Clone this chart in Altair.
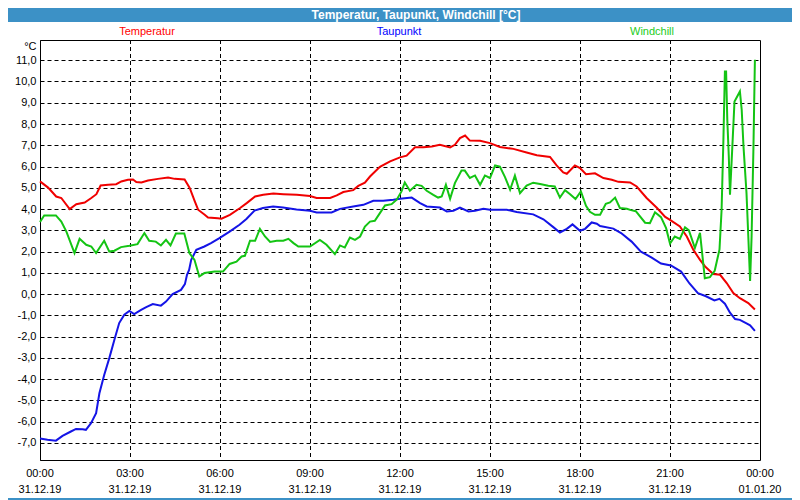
import json
import pandas as pd
import altair as alt

# ---------------- data ----------------
temp_hours = [0.0, 0.27, 0.54, 0.71, 0.99, 1.21, 1.49, 1.71, 1.88, 2.02, 2.27, 2.54, 2.71, 2.93, 3.1, 3.21, 3.38, 3.6, 3.93, 4.27,
              4.49, 4.82, 4.99, 5.16, 5.27, 5.49, 5.6, 5.93, 6.05, 6.33, 6.67, 6.89, 7.17, 7.44, 7.78, 8.11, 8.56, 9.0, 9.22, 9.67,
              9.89, 10.11, 10.44, 10.61, 10.83, 11.0, 11.33, 11.67, 12.0, 12.22, 12.5, 12.78, 13.06, 13.33, 13.67, 13.83, 14.0, 14.17,
              14.33, 14.67, 15.0, 15.33, 15.78, 16.22, 16.56, 17.0, 17.22, 17.44, 17.56, 17.83, 18.0, 18.2, 18.5, 18.78, 19.06, 19.28,
              19.67, 19.89, 20.22, 20.56, 20.84, 21.0, 21.33, 21.56, 21.78, 22.0, 22.17, 22.44, 22.67, 22.89, 23.11, 23.33, 23.61, 23.83]
temp_values = [5.30, 5.01, 4.59, 4.52, 4.00, 4.23, 4.31, 4.52, 4.70, 5.11, 5.14, 5.17, 5.30, 5.38, 5.39, 5.27, 5.25, 5.34, 5.42, 5.48,
               5.42, 5.39, 4.99, 4.36, 3.97, 3.73, 3.60, 3.57, 3.55, 3.73, 4.05, 4.28, 4.59, 4.67, 4.73, 4.70, 4.67, 4.61, 4.52, 4.52,
               4.64, 4.80, 4.89, 5.09, 5.24, 5.53, 5.99, 6.24, 6.43, 6.51, 6.91, 6.91, 6.94, 7.02, 6.90, 7.02, 7.34, 7.46,
               7.22, 7.21, 7.10, 6.92, 6.83, 6.66, 6.53, 6.45, 6.05, 5.72, 5.66, 6.05, 5.93, 5.64, 5.68, 5.46, 5.38, 5.28,
               5.25, 5.06, 4.52, 4.06, 3.63, 3.49, 3.18, 2.71, 2.08, 1.61, 1.30, 0.95, 0.91, 0.52, 0.05, -0.19, -0.42, -0.72]

dew_hours = [0.0, 0.25, 0.53, 0.75, 1.03, 1.2, 1.42, 1.53, 1.7, 1.87, 1.98, 2.14, 2.31, 2.48, 2.64, 2.81, 2.98, 3.14, 3.37, 3.54,
             3.76, 4.03, 4.2, 4.42, 4.7, 4.83, 4.9, 4.97, 5.04, 5.21, 5.48, 5.7, 5.98, 6.32, 6.65, 6.88, 7.15, 7.43, 7.77, 8.1,
             8.55, 9.0, 9.22, 9.72, 10.0, 10.44, 10.78, 11.11, 11.44, 11.78, 12.0, 12.39, 12.67, 12.89, 13.33, 13.56, 13.78, 14.0,
             14.28, 14.5, 14.78, 15.0, 15.56, 15.89, 16.44, 16.78, 17.11, 17.33, 17.56, 17.75, 18.0, 18.17, 18.39, 18.56, 18.67,
             19.11, 19.37, 19.72, 20.03, 20.39, 20.7, 21.03, 21.37, 21.65, 21.93, 22.2, 22.48, 22.65, 22.83, 23.0, 23.17, 23.33,
             23.55, 23.67, 23.83]
dew_values = [-6.79, -6.85, -6.89, -6.67, -6.46, -6.34, -6.35, -6.38, -6.07, -5.60, -4.66, -3.80, -3.01, -2.15, -1.36, -0.97, -0.79,
              -0.94, -0.74, -0.61, -0.47, -0.54, -0.35, 0.0, 0.20, 0.47, 0.91, 1.14, 1.61, 2.08, 2.24, 2.40, 2.63, 2.94, 3.26, 3.53,
              3.93, 4.05, 4.12, 4.07, 3.98, 3.92, 3.84, 3.84, 4.01, 4.12, 4.20, 4.39, 4.39, 4.44, 4.48, 4.54, 4.28, 4.12, 4.07, 3.89,
              3.92, 4.07, 3.89, 3.92, 4.01, 3.97, 3.97, 3.86, 3.75, 3.52, 3.15, 2.90, 3.07, 3.28, 2.98, 3.07, 3.37, 3.31, 3.20,
              3.08, 2.87, 2.47, 2.00, 1.72, 1.44, 1.35, 1.06, 0.50, 0.05, -0.10, -0.30, -0.22, -0.45, -0.87, -1.17, -1.21,
              -1.38, -1.47, -1.73]

wind_hours = [0.0, 0.14, 0.53, 0.71, 0.88, 1.15, 1.32, 1.54, 1.71, 1.87,
              2.14, 2.31, 2.48, 2.7, 2.98, 3.25, 3.48, 3.64, 3.86, 4.03,
              4.2, 4.35, 4.53, 4.81, 4.98, 5.15, 5.31, 5.48, 5.82, 6.1,
              6.32, 6.55, 6.72, 6.83, 7.0, 7.17, 7.33, 7.5, 7.67, 7.89,
              8.11, 8.28, 8.45, 8.61, 9.0, 9.33, 9.55, 9.83, 10.0, 10.16,
              10.33, 10.5, 10.67, 10.83, 11.0, 11.16, 11.33, 11.5, 11.72, 11.89,
              12.05, 12.16, 12.33, 12.55, 12.72, 12.89, 13.11, 13.27, 13.39, 13.53,
              13.67, 13.83, 14.05, 14.16, 14.33, 14.5, 14.67, 14.83, 15.0, 15.17,
              15.33, 15.5, 15.67, 15.83, 16.0, 16.22, 16.44, 16.67, 16.94, 17.16,
              17.33, 17.5, 17.67, 17.85, 18.03, 18.2, 18.33, 18.5, 18.67, 18.86,
              19.0, 19.17, 19.33, 19.56, 19.7, 19.86, 20.17, 20.33, 20.5, 20.7,
              20.87, 21.0, 21.16, 21.33, 21.5, 21.63, 21.83, 22.0, 22.16, 22.33,
              22.49, 22.65, 22.72, 22.78, 22.83, 22.87, 22.91, 22.96, 23.0, 23.07,
              23.15, 23.33, 23.39, 23.45, 23.55, 23.61, 23.67, 23.72, 23.78, 23.83]
wind_values = [3.39, 3.70, 3.70, 3.41, 2.94, 1.93, 2.60, 2.32, 2.24, 1.93,
               2.51, 2.00, 2.04, 2.21, 2.27, 2.35, 2.87, 2.51, 2.47, 2.29,
               2.55, 2.29, 2.85, 2.85, 1.93, 1.61, 0.83, 0.99, 1.06, 1.06,
               1.42, 1.53, 1.77, 1.80, 2.51, 2.51, 3.07, 2.71, 2.45, 2.51,
               2.51, 2.60, 2.40, 2.24, 2.24, 2.55, 2.32, 1.88, 2.29, 2.19,
               2.66, 2.55, 2.71, 3.18, 3.41, 3.45, 3.81, 4.17, 4.23, 4.44,
               4.83, 5.25, 4.86, 5.14, 5.09, 4.86, 4.67, 4.54, 4.59, 5.14,
               4.48, 5.22, 5.81, 5.81, 5.46, 5.58, 5.14, 5.58, 5.46, 6.05,
               6.00, 5.50, 4.91, 5.57, 4.75, 5.10, 5.24, 5.18, 5.10, 5.06,
               4.54, 4.89, 4.70, 4.47, 4.83, 4.15, 3.87, 3.73, 3.73, 4.25,
               4.31, 4.54, 4.05, 4.01, 3.95, 3.90, 3.36, 3.34, 3.85, 3.62,
               3.10, 2.38, 2.71, 2.60, 3.14, 3.00, 2.17, 2.88, 0.75, 0.80,
               1.10, 2.10, 3.97, 7.26, 10.47, 10.47, 8.20, 6.47, 4.67, 6.70,
               9.06, 9.53, 8.67, 6.94, 4.75, 2.71, 0.62, 2.71, 6.79, 11.02]

series_names = ["Temperatur", "Taupunkt", "Windchill"]
series_colors = ["#f00000", "#1414e6", "#14c414"]
legend_colors = ["#ff0000", "#0000ff", "#22cc22"]

x_tick_hours = [0, 3, 6, 9, 12, 15, 18, 21, 24]
x_tick_times = ["00:00", "03:00", "06:00", "09:00", "12:00", "15:00", "18:00", "21:00", "00:00"]
x_tick_dates = ["31.12.19"] * 8 + ["01.01.20"]
minor_hours = list(range(0, 25))
y_tick_values = list(range(-7, 12))
y_tick_labels = ["-7,0", "-6,0", "-5,0", "-4,0", "-3,0", "-2,0", "-1,0", "0,0", "1,0", "2,0",
                 "3,0", "4,0", "5,0", "6,0", "7,0", "8,0", "9,0", "10,0", "11,0"]
title_text = "Temperatur, Taupunkt, Windchill [°C]"
unit_text = "°C"

assert len(temp_hours) == len(temp_values)
assert len(dew_hours) == len(dew_values)
assert len(wind_hours) == len(wind_values)

rows = []
for name, hrs, vals in zip(series_names, [temp_hours, dew_hours, wind_hours], [temp_values, dew_values, wind_values]):
    for i, (h, v) in enumerate(zip(hrs, vals)):
        rows.append({"series": name, "hour": h, "value": v, "idx": i})
df = pd.DataFrame(rows)
xlab_df = pd.DataFrame({"hour": x_tick_hours, "time": x_tick_times, "date": x_tick_dates})

FONT = "Liberation Sans"
W, H = 720, 420
PAD_L, PAD_T, PAD_R, PAD_B = 32, 32, 32, 40
BLUE = "#3c91c6"

xscale = alt.Scale(domain=[0, 24], nice=False, zero=False)
yscale = alt.Scale(domain=[-7.8, 11.95], nice=False, zero=False)

y_expr = f"{json.dumps(y_tick_labels)}[datum.value - ({y_tick_values[0]})]"

x_axis = alt.Axis(values=minor_hours, labels=False, grid=False, tickSize=3, tickColor="black",
                  domainColor="black", title=None)
y_axis = alt.Axis(values=y_tick_values, labelExpr=y_expr, grid=True, gridColor="black", gridDash=[4, 3],
                  gridWidth=1, gridOpacity=1, ticks=False, domainColor="black", labelFont=FONT,
                  labelFontSize=11, labelColor="black", labelPadding=4, labelOverlap=False,
                  labelBound=False, labelFlush=False,
                  title=unit_text, titleAngle=0, titleAlign="right", titleBaseline="middle",
                  titleX=-4, titleY=6, titleFont=FONT, titleFontSize=11, titleFontWeight="normal",
                  titleColor="black")

one = pd.DataFrame({"k": [0]})

title_bar = alt.Chart(one).mark_rect(color=BLUE).encode(
    x=alt.value(-PAD_L), x2=alt.value(W + PAD_R), y=alt.value(-PAD_T), y2=alt.value(-18))
bottom_border = alt.Chart(one).mark_rect(color=BLUE).encode(
    x=alt.value(-PAD_L), x2=alt.value(W + PAD_R), y=alt.value(H + 38), y2=alt.value(H + 40))

title_mark = alt.Chart(pd.DataFrame({"t": [title_text]})).mark_text(
    font=FONT, fontSize=12, fontWeight="bold", color="white", align="center", baseline="middle"
).encode(x=alt.value(376), y=alt.value(-25), text="t:N")

grid_rules = alt.Chart(pd.DataFrame({"hour": x_tick_hours[1:-1]})).mark_rule(
    color="black", strokeDash=[4, 3], strokeWidth=1, xOffset=0.5
).encode(x=alt.X("hour:Q", scale=xscale, axis=None))

lines = alt.Chart(df).mark_line(strokeWidth=2).encode(
    x=alt.X("hour:Q", scale=xscale, axis=x_axis),
    y=alt.Y("value:Q", scale=yscale, axis=y_axis),
    color=alt.Color("series:N", scale=alt.Scale(domain=series_names, range=series_colors), legend=None),
    order="idx:Q",
)

xlab_time = alt.Chart(xlab_df).mark_text(font=FONT, fontSize=11, color="black", align="center", baseline="middle").encode(
    x=alt.X("hour:Q", scale=xscale, axis=None), y=alt.value(H + 14), text="time:N")
xlab_date = alt.Chart(xlab_df).mark_text(font=FONT, fontSize=11, color="black", align="center", baseline="middle").encode(
    x=alt.X("hour:Q", scale=xscale, axis=None), y=alt.value(H + 30), text="date:N")

legend_x = [107, 359, 612]
legend_layers = []
for name, col, lx in zip(series_names, legend_colors, legend_x):
    legend_layers.append(
        alt.Chart(pd.DataFrame({"t": [name]})).mark_text(
            font=FONT, fontSize=11, color=col, align="center", baseline="middle"
        ).encode(x=alt.value(lx), y=alt.value(-8), text="t:N")
    )

chart = alt.layer(title_bar, bottom_border, title_mark, grid_rules, lines, xlab_time, xlab_date,
                  *legend_layers).properties(
    width=W, height=H,
    padding={"left": PAD_L, "top": PAD_T, "right": PAD_R, "bottom": PAD_B},
    autosize=alt.AutoSizeParams(type="none"),
    background="white",
).configure_view(stroke="black", strokeWidth=1)

chart.save("out.html", embed_options={"renderer": "svg", "actions": False})
